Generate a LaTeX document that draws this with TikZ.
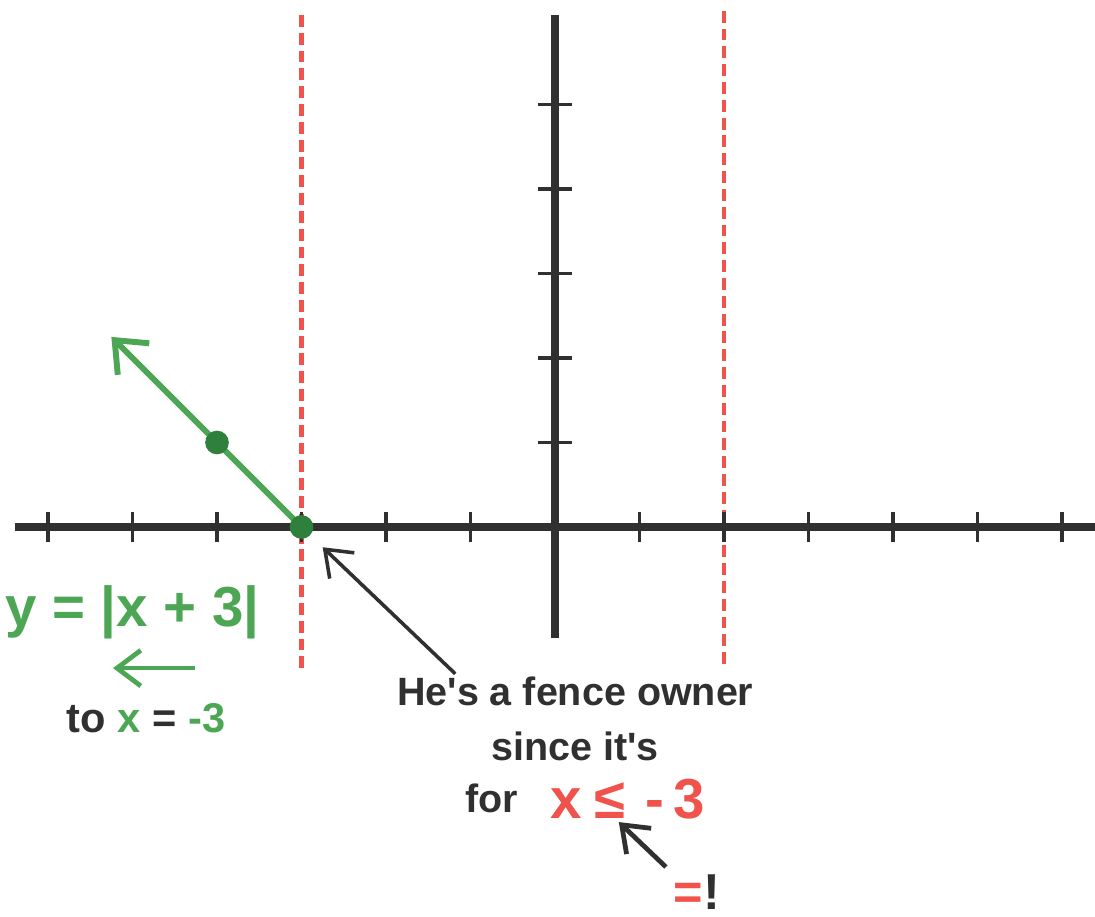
\documentclass[tikz,border=0pt]{standalone}
\usepackage{fontspec}
\setmainfont{Liberation Sans}
\usetikzlibrary{arrows.meta, positioning}
\definecolor{plotgreen}{RGB}{76,166,84}
\definecolor{dotgreen}{RGB}{47,128,60}
\definecolor{fencered}{RGB}{240,82,76}
\definecolor{ink}{RGB}{48,48,48}

\begin{document}
\begin{tikzpicture}[
    axis/.style={draw=ink, line width=2.4pt},
    tick/.style={draw=ink, line width=1.3pt},
    fence/.style={draw=fencered, line width=1.6pt, dash pattern=on 4pt off 2pt},
    graph/.style={draw=plotgreen, line width=2pt, -{Straight Barb[length=9pt, width=15pt, line width=2pt]}},
    point/.style={circle, fill=dotgreen, inner sep=0pt, minimum size=0.28cm},
    say/.style={text=ink, font=\fontsize{13.3}{16}\selectfont\bfseries, inner sep=1pt},
    hand/.style={font=\fontsize{19}{23}\selectfont\bfseries, inner sep=1pt},
    pointer/.style={draw=ink, line width=1.2pt, -{Straight Barb[length=8pt, width=12pt]}}
]
    \useasboundingbox (-6.568,-4.604) rectangle (6.391,6.237);
    \draw[fence] (-3,6.06) -- (-3,-1.67);
    \draw[fence] (2,6.11) -- (2,-1.67);
    \draw[axis] (-6.39,0) -- (6.39,0);
    \draw[axis] (0,-1.31) -- (0,6.06);
    \foreach \i in {-6,...,-1,1,2,...,6}
        \draw[tick] (\i,-0.18) -- (\i,0.18);
    \foreach \j in {1,...,5}
        \draw[tick] (-0.2,\j) -- (0.2,\j);

    \coordinate (vertex) at (-3,0);
    \coordinate (upleft) at (-5.25,2.25);
    \draw[graph] (vertex) -- (upleft);
    \node[point] (vertexdot) at (vertex) {};
    \node[point] (leftdot) at (-4,1) {};

    \node[hand, text=plotgreen] (rule) at (-5.0,-1.01) {y = |x + 3|};
    \coordinate (ruleright) at (-4.26,-1.67);
    \coordinate (ruleleft) at (-5.23,-1.67);
    \draw[pointer, draw=plotgreen, line width=1.6pt] (ruleright) -- (ruleleft);
    \node[say, font=\fontsize{14}{16}\selectfont\bfseries] (target) at (-4.84,-2.26) {to \textcolor{plotgreen}{x} = \textcolor{plotgreen}{-3}};

    \node[say, anchor=base] (owner) at (0.24,-2.118) {He\textquotesingle s a fence owner};
    \node[say, below=0.64cm of owner.base, anchor=base] (since) {since it\textquotesingle s};
    \node[say, anchor=base] (for) at (-0.75,-3.373) {for};
    \node[hand, text=fencered, anchor=base] (condx) at (0.13,-3.45) {x};
    \node[hand, text=fencered, anchor=base] (leq) at (0.65,-3.45) {≤};
    \node[hand, text=fencered, anchor=base] (condnum) at (1.42,-3.45) {-\,3};
    \node[hand, font=\fontsize{17}{20}\selectfont\bfseries, text=ink] (bang) at (1.68,-4.32) {\textcolor{fencered}{=}!};

    \draw[pointer, shorten >=0.2cm] ([xshift=0.73cm]owner.north west) -- (vertexdot);
    \draw[pointer, line width=1.6pt, shorten <=2pt] (bang.north west) -- ([xshift=3pt]leq.south);
\end{tikzpicture}
\end{document}
